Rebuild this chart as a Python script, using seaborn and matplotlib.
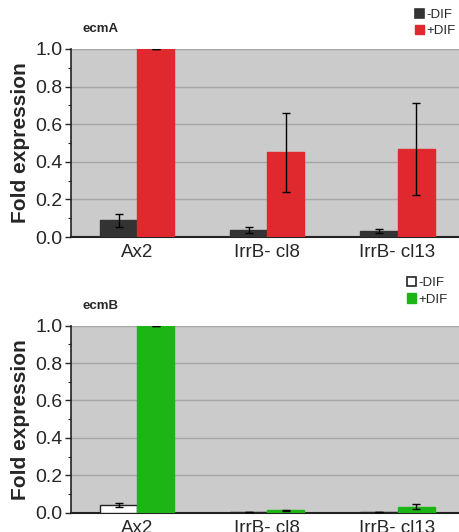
import numpy as np
import pandas as pd
import matplotlib
matplotlib.use("Agg")
import matplotlib.pyplot as plt
from matplotlib.ticker import MultipleLocator
from matplotlib.patches import Rectangle
import seaborn as sns

sns.set_style("white")
plt.rcParams['font.family'] = ['Liberation Sans', 'DejaVu Sans']

categories = ["Ax2", "IrrB- cl8", "IrrB- cl13"]
conditions = ["-DIF", "+DIF"]

ecmA_minus = [0.090, 0.038, 0.033]
ecmA_minus_err = [0.035, 0.015, 0.010]
ecmA_plus = [1.0, 0.450, 0.467]
ecmA_plus_err = [0.0, 0.210, 0.245]

ecmB_minus = [0.042, 0.003, 0.003]
ecmB_minus_err = [0.012, 0.001, 0.001]
ecmB_plus = [1.0, 0.012, 0.033]
ecmB_plus_err = [0.0, 0.003, 0.015]

yticks = [0.0, 0.2, 0.4, 0.6, 0.8, 1.0]

fig = plt.figure(figsize=(4.59, 5.32), dpi=100)
ax1 = fig.add_axes([0.155, 0.5545, 0.85, 0.3534])
ax2 = fig.add_axes([0.155, 0.0363, 0.85, 0.3515])

BG = "#cbcbcb"
GRID = "#a6a6a6"
DARK = "#333333"
RED = "#e0282f"
GREEN = "#1db515"


def panel(ax, title, minus, minus_err, plus, plus_err, colors, edgecolors, leg_anchor):
    df = pd.DataFrame({
        "cat": categories * 2,
        "cond": [conditions[0]] * 3 + [conditions[1]] * 3,
        "val": list(minus) + list(plus),
    })
    errs = list(minus_err) + list(plus_err)
    sns.barplot(data=df, x="cat", y="val", hue="cond", order=categories,
                hue_order=conditions, palette=colors, width=0.57,
                errorbar=None, ax=ax, legend=False, zorder=3, saturation=1)
    patches = [p for p in ax.patches]
    for p, e, ec in zip(patches, errs, [edgecolors[0]] * 3 + [edgecolors[1]] * 3):
        p.set_edgecolor(ec)
        p.set_linewidth(1.0)
        cx = p.get_x() + p.get_width() / 2
        h = p.get_height()
        ax.errorbar(cx, h, yerr=e, fmt="none", ecolor="black",
                    elinewidth=1.0, capsize=3, capthick=1.0, zorder=4)
    ax.set_facecolor(BG)
    ax.set_xlim(-0.508, 2.49)
    ax.set_ylim(0, 1.0)
    ax.set_yticks(yticks)
    ax.set_yticklabels([f"{t:.1f}" for t in yticks])
    ax.yaxis.set_minor_locator(MultipleLocator(0.1))
    ax.tick_params(axis="y", which="major", direction="out", length=4,
                   width=1, labelsize=14, pad=2, left=True)
    ax.tick_params(axis="y", which="minor", direction="out", length=2.5,
                   width=0.8, left=True)
    ax.tick_params(axis="x", length=0, labelsize=13.5, pad=5)
    ax.grid(axis="y", color=GRID, linewidth=1.0, zorder=0)
    ax.set_axisbelow(True)
    for s in ["top", "right"]:
        ax.spines[s].set_visible(False)
    ax.spines["left"].set_color("#222222")
    ax.spines["left"].set_linewidth(1.2)
    ax.spines["bottom"].set_color("#222222")
    ax.spines["bottom"].set_linewidth(1.5)
    ax.set_xlabel("")
    ax.set_ylabel("Fold expression", fontsize=15, fontweight="bold", labelpad=4)
    ax.text(0.03, 1.105, title, transform=ax.transAxes, fontsize=9.5,
            fontweight="bold", ha="left", va="center")
    handles = [Rectangle((0, 0), 1, 1, facecolor=colors[0], edgecolor=edgecolors[0], linewidth=1.2),
               Rectangle((0, 0), 1, 1, facecolor=colors[1], edgecolor=colors[1])]
    ax.legend(handles, conditions, loc="lower right", bbox_to_anchor=leg_anchor,
              frameon=False, fontsize=9.5, handlelength=0.7, handleheight=0.7,
              handletextpad=0.15, labelspacing=0.3, borderpad=0.1)


panel(ax1, "ecmA", ecmA_minus, ecmA_minus_err, ecmA_plus, ecmA_plus_err,
      [DARK, RED], [DARK, RED], (1.005, 1.02))
panel(ax2, "ecmB", ecmB_minus, ecmB_minus_err, ecmB_plus, ecmB_plus_err,
      ["#ffffff", GREEN], ["#222222", GREEN], (0.985, 1.065))

fig.savefig("out.png", dpi=100)
